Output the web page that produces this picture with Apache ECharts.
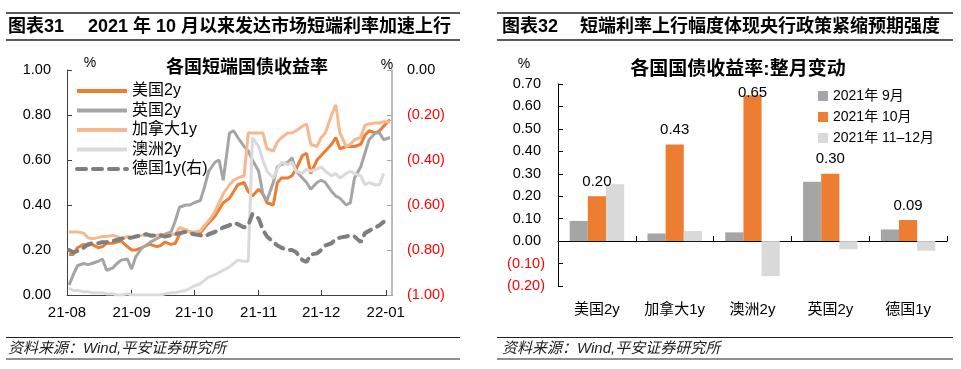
<!DOCTYPE html>
<html><head><meta charset="utf-8">
<script src="https://cdn.jsdelivr.net/npm/echarts@6/dist/echarts.min.js"></script>
<style>html,body{margin:0;padding:0;background:#fff}#c{width:961px;height:369px}</style>
</head><body><div id="c"></div>
<script>
// ---------- Left chart data (各国短端国债收益率) ----------
const dates = [
'2021-08-02','2021-08-04','2021-08-06','2021-08-09','2021-08-11','2021-08-13','2021-08-16','2021-08-18','2021-08-20','2021-08-23','2021-08-25','2021-08-27','2021-08-30',
'2021-09-01','2021-09-03','2021-09-06','2021-09-08','2021-09-10','2021-09-13','2021-09-15','2021-09-17','2021-09-20','2021-09-22','2021-09-24','2021-09-27','2021-09-29',
'2021-10-01','2021-10-04','2021-10-06','2021-10-08','2021-10-11','2021-10-13','2021-10-15','2021-10-18','2021-10-20','2021-10-22','2021-10-25','2021-10-27','2021-10-29',
'2021-11-01','2021-11-03','2021-11-05','2021-11-08','2021-11-10','2021-11-12','2021-11-15','2021-11-17','2021-11-19','2021-11-22','2021-11-24','2021-11-26','2021-11-29',
'2021-12-01','2021-12-03','2021-12-06','2021-12-08','2021-12-10','2021-12-13','2021-12-15','2021-12-17','2021-12-20','2021-12-22','2021-12-24','2021-12-27','2021-12-29','2021-12-31',
'2022-01-03'];
const us2y = [
0.18,0.18,0.21,0.225,0.22,0.225,0.21,0.215,0.23,0.23,0.235,0.24,0.215,
0.20,0.20,0.21,0.22,0.225,0.215,0.22,0.235,0.225,0.23,0.27,0.29,0.28,
0.275,0.275,0.30,0.32,0.35,0.38,0.41,0.43,0.46,0.49,0.50,0.46,0.44,
0.47,0.45,0.41,0.40,0.50,0.52,0.52,0.53,0.56,0.62,0.63,0.54,0.60,
0.62,0.64,0.67,0.70,0.65,0.66,0.66,0.66,0.67,0.71,0.73,0.72,0.73,0.75,
0.78];
const uk2y = [
0.045,0.09,0.13,0.14,0.135,0.14,0.15,0.16,0.11,0.12,0.14,0.155,0.16,
0.115,0.17,0.21,0.22,0.235,0.25,0.26,0.27,0.28,0.33,0.39,0.40,0.40,
0.41,0.42,0.48,0.55,0.59,0.60,0.51,0.72,0.73,0.70,0.66,0.64,0.60,
0.55,0.45,0.42,0.50,0.57,0.58,0.59,0.61,0.55,0.52,0.50,0.47,0.50,
0.51,0.50,0.46,0.44,0.43,0.40,0.41,0.52,0.57,0.63,0.69,0.72,0.72,0.69,
0.70];
const ca1y = [
0.28,0.28,0.28,0.275,0.255,0.25,0.255,0.26,0.26,0.265,0.26,0.25,0.26,
0.255,0.26,0.265,0.27,0.26,0.265,0.27,0.265,0.27,0.27,0.30,0.29,0.28,
0.28,0.285,0.31,0.33,0.37,0.41,0.45,0.49,0.51,0.52,0.53,0.72,0.72,
0.72,0.72,0.65,0.64,0.68,0.70,0.72,0.72,0.73,0.75,0.76,0.67,0.66,
0.70,0.72,0.80,0.845,0.72,0.66,0.67,0.69,0.70,0.755,0.76,0.765,0.765,0.77,
0.77];
const au2y = [
0.03,0.02,0.02,0.015,0.015,0.01,0.01,0.01,0.005,0.005,0.0,0.0,0.005,
0.0,0.0,0.0,0.0,0.0,0.0,0.0,0.005,0.01,0.01,0.015,0.02,0.03,
0.04,0.05,0.065,0.08,0.09,0.10,0.11,0.125,0.14,0.155,0.15,0.15,0.70,
0.66,0.60,0.55,0.52,0.56,0.59,0.58,0.59,0.55,0.54,0.56,0.55,0.56,
0.57,0.55,0.53,0.54,0.52,0.54,0.55,0.54,0.53,0.49,0.50,0.49,0.49,0.54,
null];
const de1y = [
-0.80,-0.81,-0.805,-0.79,-0.775,-0.77,-0.77,-0.765,-0.765,-0.76,-0.755,-0.75,-0.745,
-0.745,-0.74,-0.735,-0.73,-0.735,-0.735,-0.735,-0.74,-0.735,-0.73,-0.725,-0.72,-0.725,
-0.73,-0.735,-0.74,-0.73,-0.72,-0.71,-0.70,-0.69,-0.68,-0.685,-0.70,-0.69,-0.64,
-0.66,-0.71,-0.74,-0.765,-0.78,-0.79,-0.80,-0.80,-0.81,-0.845,-0.853,-0.82,-0.815,
-0.80,-0.78,-0.77,-0.75,-0.745,-0.74,-0.735,-0.74,-0.765,-0.725,-0.715,-0.70,-0.69,-0.675,
null];
const lineNames = ['美国2y','英国2y','加拿大1y','澳洲2y','德国1y(右)'];

// ---------- Right chart data (各国国债收益率:整月变动) ----------
const barCats = ['美国2y','加拿大1y','澳洲2y','英国2y','德国1y'];
const barNames = ['2021年 9月','2021年 10月','2021年 11–12月'];
const sepVals = [0.09, 0.034, 0.039, 0.264, 0.052];
const octVals = [0.20, 0.43, 0.65, 0.30, 0.094];
const novDecVals = [0.253, 0.045, -0.156, -0.036, -0.043];

const FONT = "'Liberation Sans','Noto Sans CJK SC',sans-serif";
const negFmt = v => { v = Number(v); return v < -1e-9 ? '(' + Math.abs(v).toFixed(2) + ')' : Math.abs(v).toFixed(2); };
const negColor = v => (Number(v) < -1e-9 ? '#FF0000' : '#000000');
const pad2 = n => (n < 10 ? '0' : '') + n;

const zip = arr => dates.map((d, i) => [d, arr[i]]);
const lineColors = ['#ED7D31', '#A5A5A5', '#F6B98F', '#DADADA', '#7F7F7F'];
const lineData = [us2y, uk2y, ca1y, au2y, de1y];

const lineSeries = lineData.map((arr, i) => ({
  name: lineNames[i], type: 'line', xAxisIndex: 0, yAxisIndex: i === 4 ? 1 : 0,
  data: zip(arr), showSymbol: false, symbol: 'none',
  lineStyle: i === 4 ? { color: lineColors[i], width: 4, type: [9, 7], cap: 'round' }
                     : { color: lineColors[i], width: 3 },
  itemStyle: { color: lineColors[i] },
  emphasis: { disabled: true }, silent: true
}));

const barColors = ['#A5A5A5', '#ED7D31', '#D9D9D9'];
const barSeries = [sepVals, octVals, novDecVals].map((arr, i) => ({
  name: barNames[i], type: 'bar', xAxisIndex: 1, yAxisIndex: 2,
  barGap: '0%', barCategoryGap: '30%',
  itemStyle: { color: barColors[i] },
  data: i === 1 ? arr.map(v => (v > 0.6 ? { value: v, label: { distance: -5 } } : v)) : arr,
  label: i === 1 ? { show: true, position: 'top', distance: 7, fontSize: 15, fontFamily: FONT, color: '#000',
                     formatter: p => Number(p.value).toFixed(2) } : { show: false },
  emphasis: { disabled: true }, silent: true
}));

function txt(x, y, text, font, opts) {
  return { type: 'text', silent: true, style: Object.assign({ x: x, y: y, text: text, font: font, fill: '#000',
    textAlign: 'left', textVerticalAlign: 'middle' }, opts || {}) };
}
function hline(x1, x2, y, w) {
  return { type: 'line', silent: true, shape: { x1: x1, y1: y, x2: x2, y2: y }, style: { stroke: '#222', lineWidth: w } };
}

const option = {
  animation: false,
  backgroundColor: '#fff',
  textStyle: { fontFamily: FONT },
  grid: [
    { left: 67, top: 70, width: 325, height: 225 },
    { left: 558, top: 84, width: 389, height: 202 }
  ],
  xAxis: [
    { type: 'time', gridIndex: 0, min: '2021-08-01', max: '2022-01-04', splitNumber: 5,
      minInterval: 28 * 864e5, maxInterval: 31 * 864e5,
      axisLine: { show: true, lineStyle: { color: '#404040', width: 1 } },
      axisTick: { show: true, inside: true, length: 5, lineStyle: { color: '#404040' } },
      axisLabel: { fontSize: 15, color: '#000', margin: 10, showMinLabel: true, showMaxLabel: false,
        formatter: v => { const d = new Date(v); return pad2(d.getFullYear() % 100) + '-' + pad2(d.getMonth() + 1); } },
      splitLine: { show: false } },
    { type: 'category', gridIndex: 1, data: barCats,
      axisLine: { show: true, onZero: true, lineStyle: { color: '#000', width: 1 } },
      axisTick: { show: true, inside: true, length: 5, lineStyle: { color: '#000' } },
      axisLabel: { fontSize: 15, color: '#000', margin: 16, interval: 0 },
      splitLine: { show: false } }
  ],
  yAxis: [
    { type: 'value', gridIndex: 0, position: 'left', min: 0, max: 1, interval: 0.2,
      axisLine: { show: true, lineStyle: { color: '#404040', width: 1 } },
      axisTick: { show: true, inside: true, length: 5, lineStyle: { color: '#404040' } },
      axisLabel: { fontSize: 14.5, color: '#000', margin: 16, formatter: v => Number(v).toFixed(2) },
      splitLine: { show: false } },
    { type: 'value', gridIndex: 0, position: 'right', min: -1, max: 0, interval: 0.2,
      axisLine: { show: true, lineStyle: { color: '#A6A6A6', width: 1.5 } },
      axisTick: { show: true, inside: true, length: 5, lineStyle: { color: '#A6A6A6' } },
      axisLabel: { fontSize: 14.5, margin: 15, formatter: negFmt, color: negColor },
      splitLine: { show: false } },
    { type: 'value', gridIndex: 1, position: 'left', min: -0.2, max: 0.7, interval: 0.1,
      axisLine: { show: true, lineStyle: { color: '#000', width: 1 } },
      axisTick: { show: true, inside: true, length: 5, lineStyle: { color: '#000' } },
      axisLabel: { fontSize: 14.5, margin: 13, formatter: v => (Number(v) < -1e-9 ? negFmt(v) : negFmt(v) + ' '), color: negColor },
      splitLine: { show: false } }
  ],
  legend: [
    { data: lineNames, left: 75, top: 83, padding: 0, orient: 'vertical', itemWidth: 50, itemHeight: 14, itemGap: 3.5,
      itemTextGap: 5, itemStyle: { opacity: 0, borderWidth: 0 }, lineStyle: { width: 4 },
      textStyle: { fontSize: 16, color: '#000', fontFamily: FONT }, selectedMode: false },
    { data: barNames, left: 818, top: 89, padding: 0, orient: 'vertical', icon: 'rect', itemWidth: 10, itemHeight: 10, itemGap: 7,
      itemTextGap: 4, textStyle: { fontSize: 14, color: '#000', fontFamily: FONT }, selectedMode: false }
  ],
  series: lineSeries.concat(barSeries),
  graphic: [
    hline(6, 460, 13, 1.5), hline(6, 460, 40, 1.5),
    hline(497, 953, 13, 1.5), hline(497, 953, 40, 1.5),
    hline(6, 460, 337.5, 1.2), hline(6, 460, 359, 1.2),
    hline(497, 953, 337.5, 1.2), hline(497, 953, 359, 1.2),
    txt(8, 27.5, '图表31', 'bold 18px ' + FONT),
    txt(88, 27.5, '2021 年 10 月以来发达市场短端利率加速上行', 'bold 18px ' + FONT),
    txt(502, 27.5, '图表32', 'bold 18px ' + FONT),
    txt(580, 27.5, '短端利率上行幅度体现央行政策紧缩预期强度', 'bold 18px ' + FONT),
    txt(8, 349, '资料来源：Wind,平安证券研究所', 'italic 15px ' + FONT, { fill: '#222' }),
    txt(502, 349, '资料来源：Wind,平安证券研究所', 'italic 15px ' + FONT, { fill: '#222' }),
    txt(247, 68, '各国短端国债收益率', 'bold 18px ' + FONT, { textAlign: 'center' }),
    txt(738, 70, '各国国债收益率:整月变动', 'bold 19px ' + FONT, { textAlign: 'center' }),
    txt(90, 63, '%', '14px ' + FONT, { textAlign: 'center' }),
    txt(387, 65, '%', '14px ' + FONT, { textAlign: 'center' }),
    txt(524, 64, '%', '14px ' + FONT, { textAlign: 'center' })
  ]
};
const chart = echarts.init(document.getElementById('c'), null, { renderer: 'canvas' });
chart.setOption(option);
</script>
</body></html>
